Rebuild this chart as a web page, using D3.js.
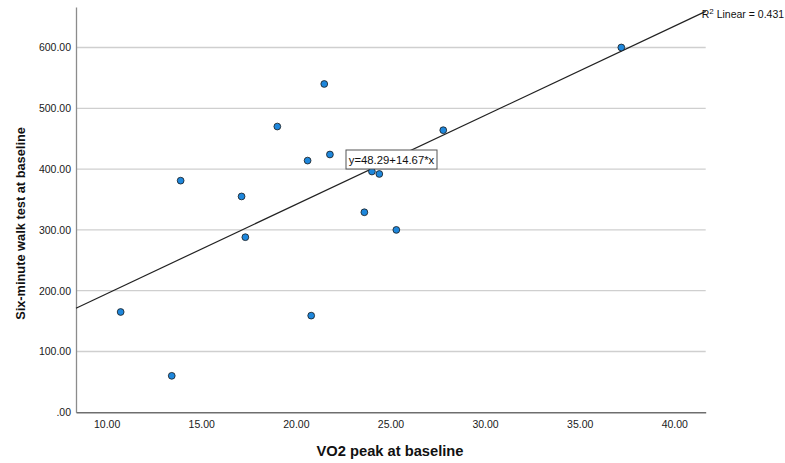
<!DOCTYPE html>
<html>
<head>
<meta charset="utf-8">
<script src="https://cdn.jsdelivr.net/npm/d3@7"></script>
<style>
  body { margin: 0; background: #fff; }
  svg { display: block; font-family: "Liberation Sans", Arial, sans-serif; }
</style>
</head>
<body>
<div id="chart"></div>
<script>
// values
const vo2Peak = [13.91, 17.13, 10.74, 13.44, 17.33, 21.50, 19.02, 20.62, 21.80, 27.79, 24.02, 24.41, 23.62, 25.31, 20.81, 37.20]
const walkTest = [381, 355, 165, 60, 288, 540, 470, 414, 424, 464, 396, 392, 329, 300, 159, 600]
const xTicks = [10, 15, 20, 25, 30, 35, 40]
const yTicks = [0, 100, 200, 300, 400, 500, 600]
const fitIntercept = 48.29
const fitSlope = 14.67
const fitLabel = 'y=48.29+14.67*x'
const rSquared = '0.431'

const width = 785
const height = 463
const margin = { left: 76, top: 7, right: 79.3, bottom: 50.7 }

const svg = d3.select('#chart').append('svg')
  .attr('width', width)
  .attr('height', height)

const x = d3.scaleLinear()
  .domain([8.38, 41.66])
  .range([margin.left, width - margin.right])

const y = d3.scaleLinear()
  .domain([0, 666.6])
  .range([height - margin.bottom, margin.top])

const fmt = function (v) {
  let s = d3.format('.2f')(v)
  return s.startsWith('0.') ? s.slice(1) : s
}

// horizontal grid
svg.append('g')
  .selectAll('line')
  .data(yTicks.filter(d => d > 0))
  .join('line')
  .attr('x1', x.range()[0])
  .attr('x2', x.range()[1])
  .attr('y1', d => y(d))
  .attr('y2', d => y(d))
  .attr('stroke', '#cfcfcf')
  .attr('stroke-width', 1.3)

// y axis
const yAxis = svg.append('g')
  .attr('transform', `translate(${margin.left},0)`)
  .call(d3.axisLeft(y).tickValues(yTicks).tickFormat(fmt).tickSize(0).tickPadding(5))
yAxis.select('.domain').attr('stroke', '#8c8c8c').attr('stroke-width', 1.3)
yAxis.selectAll('text').attr('font-size', '10.5px').attr('fill', '#1a1a1a')
  .attr('font-family', '"Liberation Sans", Arial, sans-serif')

// x axis
const xAxis = svg.append('g')
  .attr('transform', `translate(0,${height - margin.bottom})`)
  .call(d3.axisBottom(x).tickValues(xTicks).tickFormat(fmt).tickSize(0).tickPadding(8))
xAxis.select('.domain').attr('stroke', '#6e6e6e').attr('stroke-width', 1.5)
xAxis.selectAll('text').attr('font-size', '10.5px').attr('fill', '#1a1a1a')
  .attr('font-family', '"Liberation Sans", Arial, sans-serif')

// fit line across the whole x range
const xd = x.domain()
const fitPts = xd.map(v => [v, fitIntercept + fitSlope * v])
svg.append('path')
  .attr('d', d3.line().x(d => x(d[0])).y(d => y(d[1]))(fitPts))
  .attr('fill', 'none')
  .attr('stroke', '#222')
  .attr('stroke-width', 1.2)

// points
svg.append('g')
  .selectAll('circle')
  .data(vo2Peak.map((v, i) => [v, walkTest[i]]))
  .join('circle')
  .attr('cx', d => x(d[0]))
  .attr('cy', d => y(d[1]))
  .attr('r', 3.4)
  .attr('fill', '#1e87dc')
  .attr('stroke', '#1a1a1a')
  .attr('stroke-width', 0.8)

// equation box
const eq = svg.append('g').attr('transform', 'translate(346,150)')
eq.append('rect')
  .attr('width', 91)
  .attr('height', 19)
  .attr('fill', '#fff')
  .attr('stroke', '#555')
  .attr('stroke-width', 1)
eq.append('text')
  .attr('x', 45.5)
  .attr('y', 14)
  .attr('text-anchor', 'middle')
  .attr('font-size', '11.3px')
  .attr('fill', '#111')
  .text(fitLabel)

// R squared label at line end
const rl = svg.append('text')
  .attr('x', x(xd[1]) - 4)
  .attr('y', 18)
  .attr('font-size', '10.5px')
  .attr('fill', '#111')
rl.append('tspan').text('R')
rl.append('tspan').attr('dy', -4).attr('font-size', '8px').text('2')
rl.append('tspan').attr('dy', 4).text(' Linear = ' + rSquared)

// axis titles
svg.append('text')
  .attr('x', 390)
  .attr('y', 456)
  .attr('text-anchor', 'middle')
  .attr('font-size', '14.7px')
  .attr('font-weight', 'bold')
  .attr('fill', '#111')
  .text('VO2 peak at baseline')

svg.append('text')
  .attr('transform', 'translate(25,223.5) rotate(-90)')
  .attr('text-anchor', 'middle')
  .attr('font-size', '12.8px')
  .attr('font-weight', 'bold')
  .attr('fill', '#111')
  .text('Six-minute walk test at baseline')
</script>
</body>
</html>
